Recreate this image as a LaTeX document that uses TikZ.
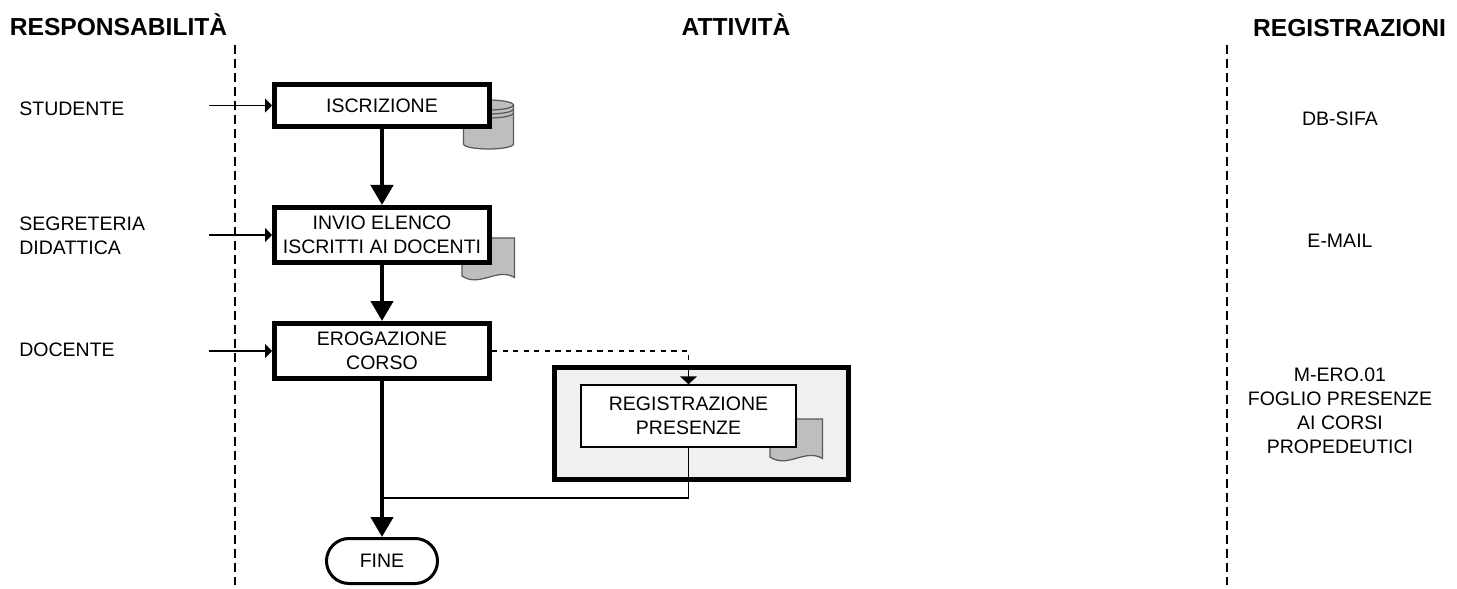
\documentclass[tikz,border=0pt]{standalone}
\usepackage{fontspec}
\setmainfont{Liberation Sans}
\usetikzlibrary{arrows.meta}

\definecolor{symgray}{HTML}{BEBEBE}
\definecolor{panelgray}{HTML}{F0F0F0}

\tikzset{
  testo/.style={font=\fontsize{11.1}{13.6}\selectfont,align=center,inner sep=0pt},
  testosx/.style={font=\fontsize{11.1}{13.6}\selectfont,align=left,inner sep=0pt},
  titolo/.style={font=\fontsize{14}{16}\selectfont\bfseries,inner sep=0pt},
  blocco/.style={rectangle,draw,line width=0.1cm,fill=white,minimum width=4.3cm,minimum height=1.1cm,inner sep=0pt,font=\fontsize{11.1}{13.6}\selectfont,align=center},
  flusso/.style={line width=0.09cm,-{Triangle[length=0.4cm,width=0.44cm]}},
  ingresso/.style={line width=0.03cm,-{Triangle[length=0.14cm,width=0.28cm]}},
  linea/.style={line width=0.03cm},
  separa/.style={line width=0.03cm,dash pattern=on 0.18cm off 0.1cm},
  foglio/.pic={
    \draw[line width=0.025cm,draw=gray!70!black,fill=symgray] (0,0) -- (1.05,0) -- (1.05,-0.79)
      .. controls (0.7,-0.58) and (0.35,-1.0) .. (0,-0.76) -- cycle;
  },
  archivio/.pic={
    \draw[line width=0.025cm,draw=gray!70!black,fill=symgray] (0,-0.1) -- (0,-0.88) arc[start angle=180,end angle=360,x radius=0.5,y radius=0.1] -- (1,-0.1) arc[start angle=0,end angle=180,x radius=0.5,y radius=0.1];
    \draw[line width=0.025cm,draw=gray!70!black] (0,-0.1) arc[start angle=180,end angle=360,x radius=0.5,y radius=0.1];
    \draw[line width=0.025cm,draw=gray!70!black] (0,-0.18) arc[start angle=180,end angle=360,x radius=0.5,y radius=0.1];
    \draw[line width=0.025cm,draw=gray!70!black] (0,-0.26) arc[start angle=180,end angle=360,x radius=0.5,y radius=0.1];
  }
}

\begin{document}
\begin{tikzpicture}
\useasboundingbox (0,0) rectangle (29.14,-11.78);

% Titoli
\node[titolo] (tresp) at (2.37,-0.5) {RESPONSABILITÀ};
\node[titolo] (tatt) at (14.72,-0.5) {ATTIVITÀ};
\node[titolo] (treg) at (26.99,-0.56) {REGISTRAZIONI};

% Separatori
\draw[separa] (4.7,-0.9) -- (4.7,-11.7);
\draw[separa] (24.54,-0.9) -- (24.54,-11.7);

% Responsabilita
\node[testosx,anchor=west] (stud) at (0.38,-2.18) {STUDENTE};
\node[testosx,anchor=west] (segr) at (0.38,-4.72) {SEGRETERIA\\DIDATTICA};
\node[testosx,anchor=west] (doce) at (0.38,-7.0) {DOCENTE};
\coordinate (instud) at (4.18,-2.11);
\coordinate (insegr) at (4.18,-4.7);
\coordinate (indoce) at (4.18,-7.02);

% Registrazioni
\node[testo] (dbsifa) at (26.8,-2.38) {DB-SIFA};
\node[testo] (email) at (26.8,-4.82) {E-MAIL};
\node[testo] (mero) at (26.8,-8.22) {M-ERO.01\\FOGLIO PRESENZE\\AI CORSI\\PROPEDEUTICI};

% Simboli sotto i blocchi
\pic at (9.27,-2.0) {archivio};
\pic at (9.24,-4.76) {foglio};

% Blocchi
\node[blocco,minimum height=0.84cm] (iscr) at (7.64,-2.11) {ISCRIZIONE};
\node[blocco] (invio) at (7.64,-4.7) {INVIO ELENCO\\ISCRITTI AI DOCENTI};
\node[blocco] (erog) at (7.64,-7.02) {EROGAZIONE\\CORSO};
\node[rectangle,draw,line width=0.06cm,fill=white,rounded corners=0.45cm,minimum width=2.22cm,minimum height=0.9cm,inner sep=0pt,font=\fontsize{11.1}{13.6}\selectfont] (fine) at (7.64,-11.22) {FINE};

% Registrazione presenze
\node[rectangle,draw,line width=0.1cm,fill=panelgray,minimum width=5.88cm,minimum height=2.24cm] (riquadro) at (14.03,-8.47) {};
\pic at (15.4,-8.38) {foglio};
\node[blocco,line width=0.03cm,minimum height=1.24cm] (regis) at (13.77,-8.32) {REGISTRAZIONE\\PRESENZE};

% Connessioni
\draw[ingresso] (instud) -- (iscr);
\draw[ingresso] (insegr) -- (invio);
\draw[ingresso] (indoce) -- (erog);
\coordinate (giunto) at (7.64,-9.96);
\draw[linea] (regis.south) |- (giunto);
\draw[flusso] (iscr) -- (invio);
\draw[flusso] (invio) -- (erog);
\draw[flusso] (erog) -- (fine);
\draw[linea,dashed] (erog.east) -| (riquadro.north -| regis.north);
\draw[linea,-{Triangle[length=0.16cm,width=0.34cm]}] (riquadro.north -| regis.north) -- (regis.north);

\end{tikzpicture}
\end{document}
